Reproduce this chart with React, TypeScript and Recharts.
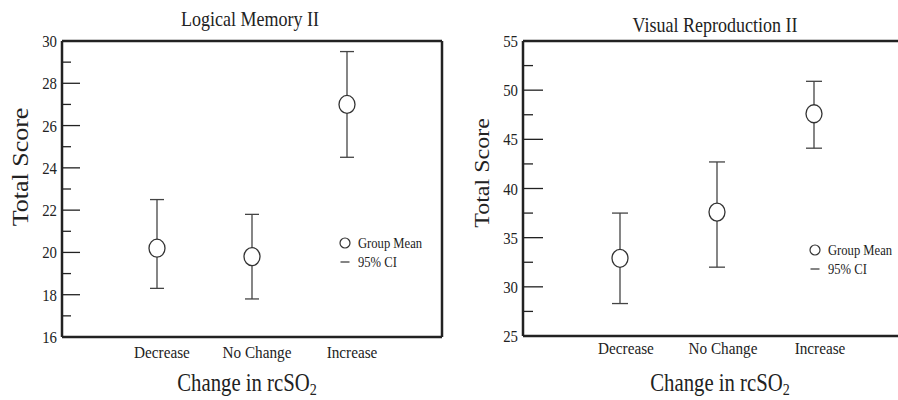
import React from 'react';
import { ScatterChart, Scatter, XAxis, YAxis, ErrorBar, ReferenceLine } from 'recharts';

// ---------- data ----------
const categories = ['Decrease', 'No Change', 'Increase'];
const categoryPositions = [1, 2, 3];
const xDomain: [number, number] = [0, 4];

const lmTitle = 'Logical Memory II';
const lmMean = [20.2, 19.8, 27.0];
const lmLower = [18.3, 17.8, 24.5];
const lmUpper = [22.5, 21.8, 29.5];
const lmDomain: [number, number] = [16, 30];
const lmTicks = [16, 17, 18, 19, 20, 21, 22, 23, 24, 25, 26, 27, 28, 29, 30];
const lmLabeled = [16, 18, 20, 22, 24, 26, 28, 30];

const vrTitle = 'Visual Reproduction II';
const vrMean = [32.9, 37.6, 47.6];
const vrLower = [28.3, 32.0, 44.1];
const vrUpper = [37.5, 42.7, 50.9];
const vrDomain: [number, number] = [25, 55];
const vrTicks = [25, 27.5, 30, 32.5, 35, 37.5, 40, 42.5, 45, 47.5, 50, 52.5, 55];
const vrLabeled = [25, 30, 35, 40, 45, 50, 55];

const yTitle = 'Total Score';
const xTitleMain = 'Change in rcSO';
const xTitleSub = '2';
const legendMean = 'Group Mean';
const legendCI = '95% CI';

// ---------- styling ----------
const FONT = '"Liberation Serif", "Times New Roman", serif';
const INK = '#222';
const SQ = 0.87;

function buildData(mean: number[], lower: number[], upper: number[]) {
  return categories.map((c, i) => ({
    name: c,
    x: categoryPositions[i],
    mean: mean[i],
    err: [mean[i] - lower[i], upper[i] - mean[i]],
  }));
}

const lmData = buildData(lmMean, lmLower, lmUpper);
const vrData = buildData(vrMean, vrLower, vrUpper);

type PanelProps = {
  left: number;
  width: number;
  yAxisWidth: number;
  xAxisHeight: number;
  domain: [number, number];
  ticks: number[];
  labeled: number[];
  majorLen: number;
  minorLen: number;
  capWidth: number;
  xLabelDy: number;
  xLabelDx: number;
  data: any[];
};

function Panel(p: PanelProps) {
  const YTick = (props: any) => {
    const { x, y, payload } = props;
    const v = payload.value;
    const isMajor = p.labeled.includes(v);
    const ax = x + 5;
    return (
      <g>
        <line x1={ax} x2={ax + (isMajor ? p.majorLen : p.minorLen)} y1={y} y2={y} stroke={INK} strokeWidth={1.3} />
        {isMajor && (
          <text
            transform={`translate(${x},${y + 6}) scale(${SQ},1)`}
            textAnchor="end"
            fontFamily={FONT}
            fontSize={17}
            fill="#222"
          >
            {v}
          </text>
        )}
      </g>
    );
  };
  const XTick = (props: any) => {
    const { x, y, payload } = props;
    const idx = categoryPositions.indexOf(payload.value);
    return (
      <text
        transform={`translate(${x + p.xLabelDx},${y + p.xLabelDy}) scale(${SQ},1)`}
        textAnchor="middle"
        fontFamily={FONT}
        fontSize={17.5}
        fill="#222"
      >
        {categories[idx]}
      </text>
    );
  };
  return (
    <div style={{ position: 'absolute', left: p.left, top: 0 }}>
      <ScatterChart width={p.width} height={400} margin={{ top: 41, right: 8, bottom: 0, left: 0 }}>
        <XAxis
          dataKey="x"
          type="number"
          domain={xDomain}
          ticks={categoryPositions}
          allowDataOverflow
          height={p.xAxisHeight}
          tickSize={0}
          tickMargin={0}
          tickLine={false}
          axisLine={{ stroke: INK, strokeWidth: 2.5 }}
          tick={<XTick />}
          interval={0}
        />
        <YAxis
          dataKey="mean"
          type="number"
          domain={p.domain}
          ticks={p.ticks}
          allowDataOverflow
          width={p.yAxisWidth}
          tickSize={0}
          tickMargin={5}
          tickLine={false}
          axisLine={{ stroke: INK, strokeWidth: 2.5 }}
          tick={<YTick />}
          interval={0}
        />
        <ReferenceLine y={p.domain[1]} stroke={INK} strokeWidth={2.5} ifOverflow="visible" />
        <ReferenceLine x={xDomain[1]} stroke={INK} strokeWidth={2.5} ifOverflow="visible" />
        <Scatter
          data={p.data}
          isAnimationActive={false}
          shape={(s: any) => (
            <ellipse cx={s.cx} cy={s.cy} rx={8} ry={9} fill="#fff" stroke="#333" strokeWidth={1.3} />
          )}
        >
          <ErrorBar dataKey="err" direction="y" width={p.capWidth} stroke="#444" strokeWidth={1.3} isAnimationActive={false} />
        </Scatter>
      </ScatterChart>
    </div>
  );
}

function SqText({ x, y, size, anchor, children }: any) {
  return (
    <text
      transform={`translate(${x},${y}) scale(${SQ},1)`}
      textAnchor={anchor || 'start'}
      fontFamily={FONT}
      fontSize={size}
      fill="#222"
    >
      {children}
    </text>
  );
}

function Legend({ cx, cy, tx }: { cx: number; cy: number; tx: number }) {
  return (
    <g>
      <circle cx={cx} cy={cy} r={5} fill="#fff" stroke="#333" strokeWidth={1.2} />
      <SqText x={tx} y={cy + 5} size={14.5}>{legendMean}</SqText>
      <line x1={cx - 4.5} x2={cx + 4.5} y1={cy + 19} y2={cy + 19} stroke="#333" strokeWidth={1.2} />
      <SqText x={tx} y={cy + 24} size={14.5}>{legendCI}</SqText>
    </g>
  );
}

function XTitle({ cx, y }: { cx: number; y: number }) {
  return (
    <text
      transform={`translate(${cx},${y}) scale(0.83,1)`}
      textAnchor="middle"
      fontFamily={FONT}
      fontSize={25}
      fill="#222"
    >
      {xTitleMain}
      <tspan fontSize={17} dy={4}>{xTitleSub}</tspan>
    </text>
  );
}

function YTitle({ x, cy, size }: { x: number; cy: number; size: number }) {
  return (
    <text
      transform={`translate(${x},${cy}) scale(${SQ},1) rotate(-90)`}
      textAnchor="middle"
      fontFamily={FONT}
      fontSize={size}
      fill="#222"
    >
      {yTitle}
    </text>
  );
}

export default function App() {
  return (
    <div
      style={{
        position: 'absolute',
        left: 0,
        top: 0,
        width: 898,
        height: 400,
        overflow: 'hidden',
        background: '#fff',
      }}
    >
      <Panel
        left={0}
        width={450}
        yAxisWidth={62}
        xAxisHeight={63}
        domain={lmDomain}
        ticks={lmTicks}
        labeled={lmLabeled}
        majorLen={18}
        minorLen={9}
        capWidth={7}
        xLabelDy={21}
        xLabelDx={5}
        data={lmData}
      />
      <Panel
        left={450}
        width={469}
        yAxisWidth={73}
        xAxisHeight={64}
        domain={vrDomain}
        ticks={vrTicks}
        labeled={vrLabeled}
        majorLen={20}
        minorLen={10}
        capWidth={8}
        xLabelDy={18}
        xLabelDx={6}
        data={vrData}
      />
      <svg
        width={898}
        height={400}
        style={{ position: 'absolute', left: 0, top: 0, pointerEvents: 'none' }}
      >
        <text
          transform={`translate(250,26) scale(0.9,1)`}
          textAnchor="middle"
          fontFamily={FONT}
          fontSize={20}
          fill="#222"
        >
          {lmTitle}
        </text>
        <text
          transform={`translate(715,32) scale(0.9,1)`}
          textAnchor="middle"
          fontFamily={FONT}
          fontSize={20}
          fill="#222"
        >
          {vrTitle}
        </text>
        <YTitle x={28} cy={167} size={26} />
        <YTitle x={489} cy={173} size={24} />
        <XTitle cx={247} y={391} />
        <XTitle cx={720} y={391} />
        <Legend cx={345} cy={243} tx={358} />
        <Legend cx={815} cy={250} tx={828} />
      </svg>
    </div>
  );
}
